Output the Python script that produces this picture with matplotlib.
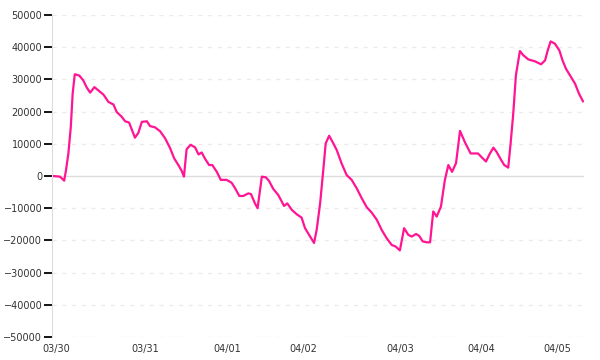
import matplotlib
matplotlib.use("Agg")
import matplotlib.pyplot as plt

# index position along the x axis (one slot per sample) and the value there
x_idx = [0, 2.6, 4.2, 4.9, 5.8, 6.7, 7.4, 8.2, 9.9, 11.4, 12.7, 14.0, 15.6, 17.1,
         19.0, 20.9, 22.8, 24.0, 25.9, 27.2, 28.7, 30.9, 32.2, 33.5, 35.4, 36.6,
         38.5, 40.4, 42.3, 44.2, 45.7, 47.3, 48.6, 49.4, 50.4, 51.9, 53.6, 54.9,
         56.1, 57.4, 58.9, 60.1, 61.8, 63.3, 65.5, 67.4, 68.7, 70.3, 71.8, 73.7,
         74.7, 76.2, 77.2, 78.8, 80.3, 81.5, 83.1, 85.0, 87.2, 88.4, 90.1, 92.0,
         93.8, 95.1, 97.0, 98.5, 99.5, 100.8, 102.0, 102.9, 104.2, 105.8, 107.1,
         108.9, 110.8, 112.7, 114.6, 116.5, 118.4, 120.3, 122.2, 124.0, 125.9,
         127.8, 129.3, 130.9, 132.5, 134.1, 135.4, 137.0, 138.2, 139.5, 141.0,
         142.3, 143.5, 144.8, 146.4, 147.9, 149.2, 150.6, 152.1, 153.6, 155.5,
         157.6, 160.4, 161.8, 163.4, 164.9, 166.2, 167.4, 169.1, 170.3, 171.8,
         172.7, 173.7, 174.7, 176.2, 177.5, 179.4, 181.9, 184.2, 185.7, 186.7,
         187.8, 189.4, 191.1, 192.3, 193.6, 195.5, 197.0, 198.5, 200]
values = [0, -200, -1450, 1900, 7100, 15300, 25600, 31600, 31200, 29700, 27500,
          25900, 27600, 26600, 25300, 23000, 22200, 19900, 18400, 17000, 16600,
          11900, 13400, 16800, 17000, 15500, 15100, 13900, 11700, 8600, 5500,
          3400, 1500, -200, 8300, 9700, 8900, 6700, 7300, 5300, 3400, 3400, 1300,
          -1200, -1200, -2100, -3800, -6200, -6200, -5400, -5600, -8500, -10000,
          -200, -400, -1500, -4000, -5900, -9300, -8500, -10500, -11900, -12900,
          -16200, -18800, -20800, -16700, -8500, 1900, 10100, 12500, 10100, 8000,
          3900, 300, -1200, -3800, -6900, -9700, -11400, -13600, -16700, -19300,
          -21400, -21900, -23100, -16200, -18300, -18800, -18000, -18600, -20300,
          -20600, -20600, -11000, -12600, -9500, -1200, 3400, 1300, 4000, 14000,
          10400, 7000, 7000, 5800, 4500, 7000, 8800, 7500, 5000, 3400, 2600,
          10100, 19400, 31300, 38800, 37500, 36200, 35600, 34700, 35900, 39000,
          41800, 41100, 39000, 35900, 33300, 30700, 28700, 25600, 23200]

day_pos = [1.3, 34.7, 65.7, 94.3, 130.9, 161.5, 190.2]
day_labels = ["03/30", "03/31", "04/01", "04/02", "04/03", "04/04", "04/05"]
y_ticks = list(range(-50000, 50001, 10000))

fig = plt.figure(figsize=(6, 3.6), dpi=100)
ax = fig.add_axes([52 / 600, 23 / 360, 532 / 600, 322 / 360])

for y in y_ticks:
    if y == 0:
        ax.axhline(0, color="#dddddd", lw=1, zorder=1)
    else:
        ax.axhline(y, color="#ebebeb", lw=1, ls=(0, (3, 4)), zorder=1)

ax.plot(x_idx, values, color="#ff1493", lw=1.6, zorder=3)

ax.set_xlim(-0.4, 200.4)
ax.set_ylim(-50000, 50000)
ax.set_yticks(y_ticks)
ax.set_yticklabels([str(v).replace("-", "\u2212") for v in y_ticks])
ax.set_xticks(day_pos)
ax.set_xticklabels(day_labels)

ax.tick_params(axis="y", length=6, width=1.3, color="#000000", pad=1,
               labelsize=7, labelcolor="#333333")
ax.tick_params(axis="x", length=0, pad=5, labelsize=7, labelcolor="#333333")

for side in ["top", "right", "bottom"]:
    ax.spines[side].set_visible(False)
ax.spines["left"].set_color("#dddddd")
ax.spines["left"].set_zorder(4)

fig.savefig("out.png", dpi=100)
